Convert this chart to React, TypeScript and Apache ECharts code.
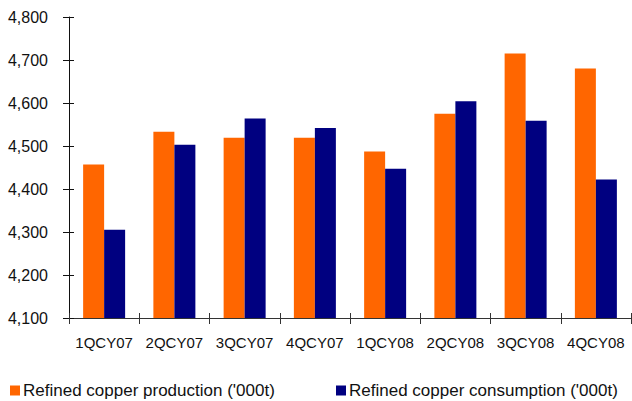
import React, { useEffect, useRef } from "react";
import * as echarts from "echarts";

const categories = ["1QCY07", "2QCY07", "3QCY07", "4QCY07", "1QCY08", "2QCY08", "3QCY08", "4QCY08"];
const production = [4457, 4533, 4519, 4519, 4487, 4575, 4715, 4680];
const consumption = [4305, 4503, 4564, 4542, 4447, 4604, 4559, 4422];
const prodName = "Refined copper production ('000t)";
const consName = "Refined copper consumption ('000t)";

const FONT = "'Liberation Sans', Arial, sans-serif";

export default function App() {
  const ref = useRef<HTMLDivElement>(null);
  useEffect(() => {
    if (!ref.current) return;
    const chart = echarts.init(ref.current, null, { renderer: "svg" });
    const yBase = { type: "value", min: 4100, max: 4800, interval: 100, position: "left" };
    const legendText = { fontSize: 17, color: "#111", fontFamily: FONT, padding: [0, 0, 0, -2] };
    chart.setOption({
      animation: false,
      textStyle: { fontFamily: FONT },
      grid: { left: 69, right: 1, top: 17, bottom: 83, containLabel: false },
      legend: [
        {
          data: [prodName],
          left: 5,
          top: 377,
          icon: "rect",
          itemWidth: 10,
          itemHeight: 10,
          itemGap: 0,
          textStyle: legendText,
        },
        {
          data: [consName],
          left: 331,
          top: 377,
          icon: "rect",
          itemWidth: 10,
          itemHeight: 10,
          itemGap: 0,
          textStyle: legendText,
        },
      ],
      xAxis: [
        {
          type: "category",
          data: categories,
          position: "bottom",
          axisLine: { lineStyle: { color: "#333", width: 1 } },
          axisTick: { show: true, inside: false, length: 6, interval: 0, lineStyle: { color: "#333" } },
          axisLabel: { fontSize: 15, color: "#111", margin: 17, interval: 0, hideOverlap: false, fontFamily: FONT },
          splitLine: { show: false },
        },
        {
          type: "category",
          data: categories,
          position: "bottom",
          axisLine: { show: false },
          axisTick: { show: true, inside: true, length: 5, interval: 0, lineStyle: { color: "#333" } },
          axisLabel: { show: false, interval: 0 },
          splitLine: { show: false },
        },
      ],
      yAxis: [
        {
          ...yBase,
          axisLine: { show: true, lineStyle: { color: "#111", width: 1 } },
          axisTick: { show: true, inside: false, length: 6, lineStyle: { color: "#111" } },
          axisLabel: {
            fontSize: 16,
            color: "#111",
            margin: 21,
            fontFamily: FONT,
            formatter: (v: number) => v.toLocaleString("en-US"),
          },
          splitLine: { show: false },
        },
        {
          ...yBase,
          axisLine: { show: false },
          axisTick: { show: true, inside: true, length: 5, lineStyle: { color: "#111" } },
          axisLabel: { show: false },
          splitLine: { show: false },
        },
      ],
      series: [
        {
          name: prodName,
          type: "bar",
          data: production,
          barWidth: 21,
          barGap: "0%",
          itemStyle: { color: "#FF6600" },
        },
        {
          name: consName,
          type: "bar",
          data: consumption,
          barWidth: 21,
          barGap: "0%",
          itemStyle: { color: "#000080" },
        },
      ],
    });
    return () => chart.dispose();
  }, []);
  return <div ref={ref} style={{ width: 632, height: 401, position: "absolute", left: 0, top: 0 }} />;
}
